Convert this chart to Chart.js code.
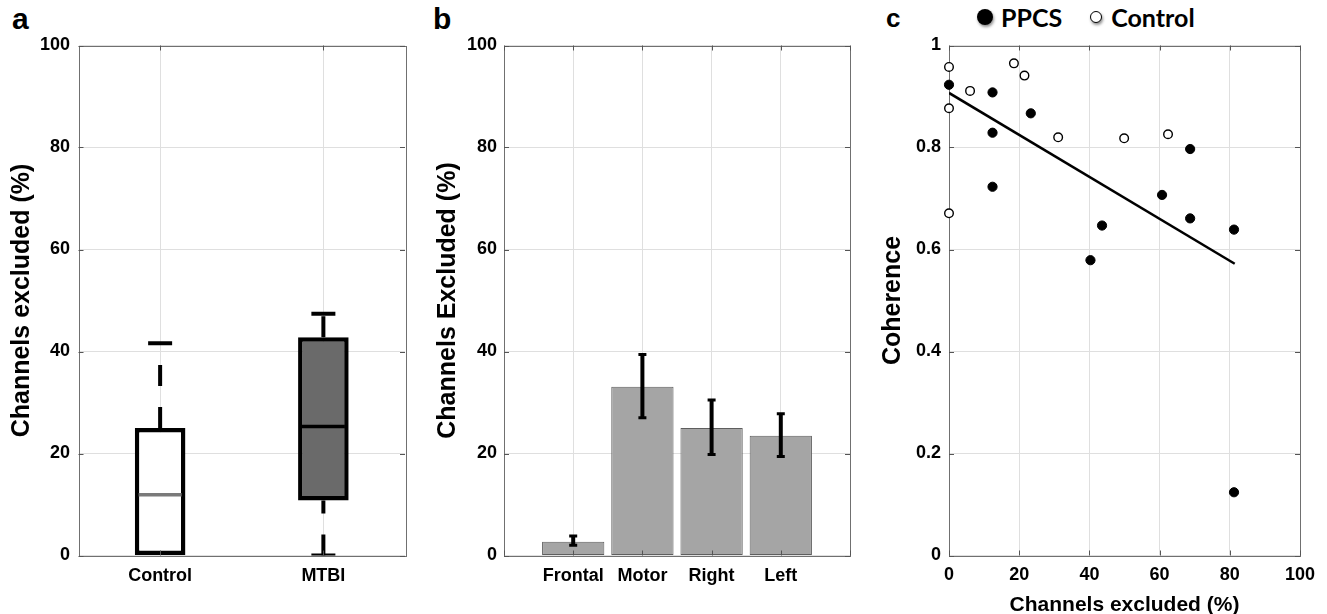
<!DOCTYPE html>
<html>
<head>
<meta charset="utf-8">
<title>Channels excluded</title>
<script src="https://cdn.jsdelivr.net/npm/chart.js@4.4.1/dist/chart.umd.min.js"></script>
<style>
    html, body { margin: 0; padding: 0; background: #fff; overflow: hidden; }
    body { position: relative; width: 1327px; height: 614px; font-family: "Liberation Sans", Arial, sans-serif; }
    canvas { position: absolute; top: 0; }
    #chartA { left: 0; }
    #chartB { left: 430px; }
    #chartC { left: 870px; }
    .letter { position: absolute; font-weight: bold; line-height: 1; color: #000; }
    #legendC { position: absolute; left: 977px; top: 2px; height: 30px; display: flex; align-items: center;
        font-family: Lato, "Open Sans", sans-serif; font-weight: bold; font-size: 25px; color: #000; }
    #legendC .dot { display: inline-block; border-radius: 50%; box-shadow: 1px 2px 3px rgba(0, 0, 0, 0.45); }
</style>
</head>
<body>
<div class="letter" style="left:12px; top:4px; font-size:30px;">a</div>
<div class="letter" style="left:433px; top:4px; font-size:30px;">b</div>
<div class="letter" style="left:886px; top:5px; font-size:26px;">c</div>
<div id="legendC"></div>
<canvas id="chartA" width="430" height="614"></canvas>
<canvas id="chartB" width="430" height="614"></canvas>
<canvas id="chartC" width="457" height="614"></canvas>
<script>
// panel a - box plot summary per group
const groups = ['Control', 'MTBI'];
const boxQ1 = [0, 10.8];
const boxQ3 = [25.0, 42.8];
const boxMedian = [11.9, 25.3];
const whiskerLow = [0, 0];
const whiskerHigh = [41.6, 47.4];

// panel b - mean and error per region
const regions = ['Frontal', 'Motor', 'Right', 'Left'];
const regionMean = [2.7, 33.1, 25.0, 23.5];
const regionErrLow = [2.0, 27.0, 19.8, 19.4];
const regionErrHigh = [3.8, 39.4, 30.5, 27.8];

// panel c - coherence vs channels excluded
const seriesNames = ['PPCS', 'Control'];
const ppcsX = [0, 12.4, 12.4, 12.4, 23.3, 40.3, 43.6, 60.7, 68.7, 68.7, 81.2, 81.2];
const ppcsY = [0.923, 0.908, 0.829, 0.723, 0.867, 0.579, 0.647, 0.707, 0.797, 0.661, 0.639, 0.124];
const controlX = [0, 0, 0, 6.0, 18.5, 21.5, 31.1, 49.9, 62.4];
const controlY = [0.958, 0.877, 0.671, 0.911, 0.965, 0.941, 0.820, 0.818, 0.826];
const fitX = [0, 81.4];
const fitY = [0.907, 0.572];

const gridColor = '#dfdfdf';
const tickFont = { size: 18, weight: 'bold' };
const titleFont = { size: 25, weight: 'bold' };

Chart.defaults.font.family = '"Liberation Sans", Arial, sans-serif';
Chart.defaults.color = '#000';

// matlab style box round the axes, with small inward ticks
const axesBox = {
    id: 'axesBox',
    beforeDatasetsDraw(chart) {
        const { ctx, chartArea } = chart;
        ctx.save();
        ctx.strokeStyle = '#707070';
        ctx.lineWidth = 1;
        ctx.strokeRect(Math.round(chartArea.left) + 0.5, Math.round(chartArea.top) + 0.5,
            Math.round(chartArea.right - chartArea.left), Math.round(chartArea.bottom - chartArea.top));
        ctx.restore();
    },
    afterDatasetsDraw(chart) {
        const { ctx, chartArea, scales } = chart;
        ctx.save();
        ctx.strokeStyle = '#555';
        ctx.lineWidth = 1;
        ctx.beginPath();
        scales.x.ticks.forEach(function (t, i) {
            const px = Math.round(scales.x.getPixelForTick(i)) + 0.5;
            ctx.moveTo(px, chartArea.bottom);
            ctx.lineTo(px, chartArea.bottom - 5);
            ctx.moveTo(px, chartArea.top);
            ctx.lineTo(px, chartArea.top + 5);
        });
        scales.y.ticks.forEach(function (t, i) {
            const py = Math.round(scales.y.getPixelForTick(i)) + 0.5;
            ctx.moveTo(chartArea.left, py);
            ctx.lineTo(chartArea.left + 5, py);
            ctx.moveTo(chartArea.right, py);
            ctx.lineTo(chartArea.right - 5, py);
        });
        ctx.stroke();
        ctx.restore();
    }
};

function yAxis(max, step, title, titlePad, tickPad, width) {
    return {
        min: 0,
        max: max,
        ticks: {
            stepSize: step, font: tickFont, color: '#000', padding: tickPad,
            callback: function (value) { return String(Number(value.toFixed(2))); }
        },
        grid: { color: gridColor, drawTicks: false },
        border: { display: false },
        title: { display: true, text: title, font: titleFont, color: '#000', padding: { top: titlePad, bottom: 0 } },
        afterFit: function (scale) { scale.width = width; }
    };
}

function baseOptions(padRight) {
    return {
        responsive: false,
        animation: false,
        events: [],
        layout: { padding: { top: 45.5, right: padRight, bottom: 0, left: 0 } },
        plugins: { legend: { display: false }, tooltip: { enabled: false } }
    };
}

function whisker(group, from, to, caps) {
    return {
        type: 'line',
        data: [{ x: group, y: from }, { x: group, y: to }],
        borderColor: '#000',
        borderWidth: 4,
        borderDash: [21, 21],
        borderCapStyle: 'butt',
        pointStyle: 'line',
        pointRadius: caps,
        pointBorderColor: '#000',
        pointBorderWidth: 4,
        order: 2
    };
}

function renderBoxChart() {
    const whiskers = [];
    groups.forEach(function (g, i) {
        if (whiskerHigh[i] > boxQ3[i]) whiskers.push(whisker(g, boxQ3[i], whiskerHigh[i], [0, 12]));
        if (whiskerLow[i] < boxQ1[i]) whiskers.push(whisker(g, whiskerLow[i], boxQ1[i], [12, 0]));
    });

    const boxes = {
        type: 'bar',
        data: groups.map(function (g, i) { return [boxQ1[i], boxQ3[i]]; }),
        backgroundColor: ['#ffffff', '#6a6a6a'],
        borderColor: '#000',
        borderWidth: 4.5,
        borderSkipped: false,
        barPercentage: 0.31,
        categoryPercentage: 1,
        order: 1
    };

    const medians = {
        type: 'line',
        data: groups.map(function (g, i) { return { x: g, y: boxMedian[i] }; }),
        showLine: false,
        pointStyle: 'line',
        pointRadius: 21.5,
        pointBorderWidth: 3.5,
        pointBorderColor: ['#7a7a7a', '#000'],
        order: 0
    };

    const options = baseOptions(21);
    options.scales = {
        x: {
            type: 'category',
            offset: true,
            grid: { color: gridColor, offset: false, drawTicks: false },
            border: { display: false },
            ticks: { font: tickFont, color: '#000', padding: 10 },
            afterFit: function (scale) { scale.height = 58.5; }
        },
        y: yAxis(100, 20, 'Channels excluded (%)', 7, 8.5, 78.5)
    };

    return new Chart('chartA', {
        type: 'bar',
        data: { labels: groups, datasets: [boxes, medians].concat(whiskers) },
        options: options,
        plugins: [axesBox]
    });
}

function renderRegionChart() {
    const bars = {
        type: 'bar',
        data: regions.map(function (r, i) { return { x: i + 1, y: regionMean[i] }; }),
        backgroundColor: '#a5a5a5',
        borderColor: '#5e5e5e',
        borderWidth: 1,
        borderSkipped: false,
        barPercentage: 0.9,
        categoryPercentage: 1,
        order: 1
    };

    const errors = {
        type: 'line',
        data: regions.flatMap(function (r, i) {
            return [{ x: i + 1, y: regionErrLow[i] }, { x: i + 1, y: regionErrHigh[i] }, { x: i + 1, y: null }];
        }),
        borderColor: '#000',
        borderWidth: 4,
        borderCapStyle: 'butt',
        spanGaps: false,
        pointStyle: 'line',
        pointRadius: 4,
        pointBorderColor: '#000',
        pointBorderWidth: 3,
        order: 0
    };

    const options = baseOptions(5);
    options.scales = {
        x: {
            type: 'linear',
            min: 0,
            max: regions.length + 1,
            offset: false,
            grid: { color: gridColor, offset: false, drawTicks: false },
            border: { display: false },
            ticks: {
                stepSize: 1, autoSkip: false, maxRotation: 0, font: tickFont, color: '#000', padding: 10,
                callback: function (value) { return regions[value - 1] || ''; }
            },
            afterFit: function (scale) { scale.height = 58.5; }
        },
        y: yAxis(100, 20, 'Channels Excluded (%)', 3, 7, 74)
    };

    return new Chart('chartB', {
        type: 'bar',
        data: { datasets: [bars, errors] },
        options: options,
        plugins: [axesBox]
    });
}

function renderCoherenceChart() {
    const ppcs = {
        label: seriesNames[0],
        data: ppcsX.map(function (x, i) { return { x: x, y: ppcsY[i] }; }),
        backgroundColor: '#000',
        borderColor: '#000',
        borderWidth: 1,
        pointRadius: 4.6,
        clip: false,
        order: 0
    };

    const control = {
        label: seriesNames[1],
        data: controlX.map(function (x, i) { return { x: x, y: controlY[i] }; }),
        backgroundColor: '#fff',
        borderColor: '#000',
        borderWidth: 1.4,
        pointRadius: 4.3,
        clip: false,
        order: 0
    };

    const fit = {
        type: 'line',
        data: fitX.map(function (x, i) { return { x: x, y: fitY[i] }; }),
        borderColor: '#000',
        borderWidth: 2.5,
        pointRadius: 0,
        order: 1
    };

    const options = baseOptions(27);
    options.scales = {
        x: {
            type: 'linear',
            min: 0,
            max: 100,
            grid: { color: gridColor, drawTicks: false },
            border: { display: false },
            ticks: { stepSize: 20, font: tickFont, color: '#000', padding: 9 },
            title: {
                display: true, text: 'Channels excluded (%)', color: '#000',
                font: { size: 21, weight: 'bold', lineHeight: 0.86 }, padding: { top: 0, bottom: 0 }
            },
            afterFit: function (scale) { scale.height = 58.5; }
        },
        y: yAxis(1, 0.2, 'Coherence', 8, 8, 79)
    };

    return new Chart('chartC', {
        type: 'scatter',
        data: { datasets: [ppcs, control, fit] },
        options: options,
        plugins: [axesBox]
    });
}

function renderLegend(chart) {
    const box = document.getElementById('legendC');
    chart.data.datasets.slice(0, seriesNames.length).forEach(function (ds, i) {
        const dot = document.createElement('span');
        dot.className = 'dot';
        if (i === 0) {
            dot.style.cssText = 'width:16px;height:16px;background:' + ds.backgroundColor + ';margin-right:8px;';
        } else {
            dot.style.cssText = 'width:10px;height:10px;border:1.5px solid ' + ds.borderColor +
                ';background:' + ds.backgroundColor + ';margin-left:28px;margin-right:9px;';
        }
        const text = document.createElement('span');
        text.textContent = ds.label;
        box.appendChild(dot);
        box.appendChild(text);
    });
}

renderBoxChart();
renderRegionChart();
renderLegend(renderCoherenceChart());
</script>
</body>
</html>
